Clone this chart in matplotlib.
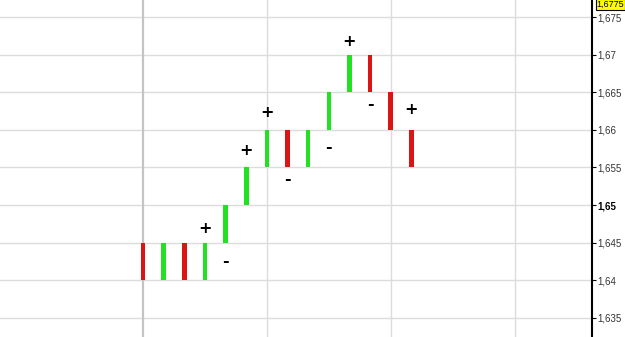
import matplotlib
matplotlib.use("Agg")
import matplotlib.pyplot as plt
from matplotlib.ticker import FixedLocator

# Point & figure style columns: each box is one 0.005 step
columns = list(range(14))
box_low = [1.640, 1.640, 1.640, 1.640, 1.645, 1.650, 1.655,
           1.655, 1.655, 1.660, 1.665, 1.665, 1.660, 1.655]
direction = ["down", "up", "down", "up", "up", "up", "up",
             "down", "up", "up", "up", "down", "down", "down"]
box_size = 0.005

# signal marks (+ / -) near the columns
sig_cols = [3, 4, 5, 6, 7, 9, 10, 11, 13]
sig_vals = [1.6469, 1.6425, 1.6572, 1.6623, 1.6534, 1.6577, 1.6718, 1.6634, 1.6627]
sig_text = ["+", "-", "+", "+", "-", "-", "+", "-", "+"]

y_ticks = [1.635, 1.64, 1.645, 1.65, 1.655, 1.66, 1.665, 1.67, 1.675]
y_labels = ["1,635", "1,64", "1,645", "1,65", "1,655", "1,66", "1,665", "1,67", "1,675"]
x_grid = [0, 6, 12, 18]
last_label = "1,6775"
last_value = 1.6767

UP = "#22e022"
DOWN = "#dc1414"

fig = plt.figure(figsize=(6.25, 3.37), dpi=100)
ax = fig.add_axes([0, 0, 592 / 625, 1])

colors = [UP if d == "up" else DOWN for d in direction]
ax.bar(columns, [box_size] * len(columns), bottom=box_low, width=0.22,
       color=colors, zorder=3)

for c, v, t in zip(sig_cols, sig_vals, sig_text):
    ax.text(c, v, t, ha="center", va="center", fontsize=11.5, fontweight="bold",
            family="DejaVu Sans", color="black", zorder=4)

ax.set_xlim(-6.93, 21.75)
ax.set_ylim(1.63247, 1.67726)

for y in y_ticks:
    ax.axhline(y, color="#dcdcdc", lw=1.0, zorder=1)
for x in x_grid:
    ax.axvline(x, color="#c4c4c4" if x == 0 else "#dcdcdc",
               lw=1.6 if x == 0 else 1.0, zorder=1)

for s in ["left", "top", "bottom"]:
    ax.spines[s].set_visible(False)
ax.spines["right"].set_linewidth(1.5)
ax.spines["right"].set_color("black")
ax.set_xticks([])
ax.yaxis.tick_right()
ax.yaxis.set_major_locator(FixedLocator(y_ticks))
ax.set_yticklabels(y_labels)
ax.tick_params(axis="y", direction="out", length=3, width=0.8, pad=1,
               labelsize=7, labelcolor="#333333")
for lbl in ax.get_yticklabels():
    lbl.set_family("Liberation Sans")
    if lbl.get_text() == "1,65":
        lbl.set_fontweight("bold")
        lbl.set_color("black")

ax.text(1.008, last_value, last_label, transform=ax.get_yaxis_transform(),
        ha="left", va="center", fontsize=6.5, family="Liberation Sans",
        clip_on=False,
        bbox={"boxstyle": "square,pad=0.12", "fc": "#ffff00", "ec": "black", "lw": 0.8})

fig.savefig("out.png", dpi=100)
